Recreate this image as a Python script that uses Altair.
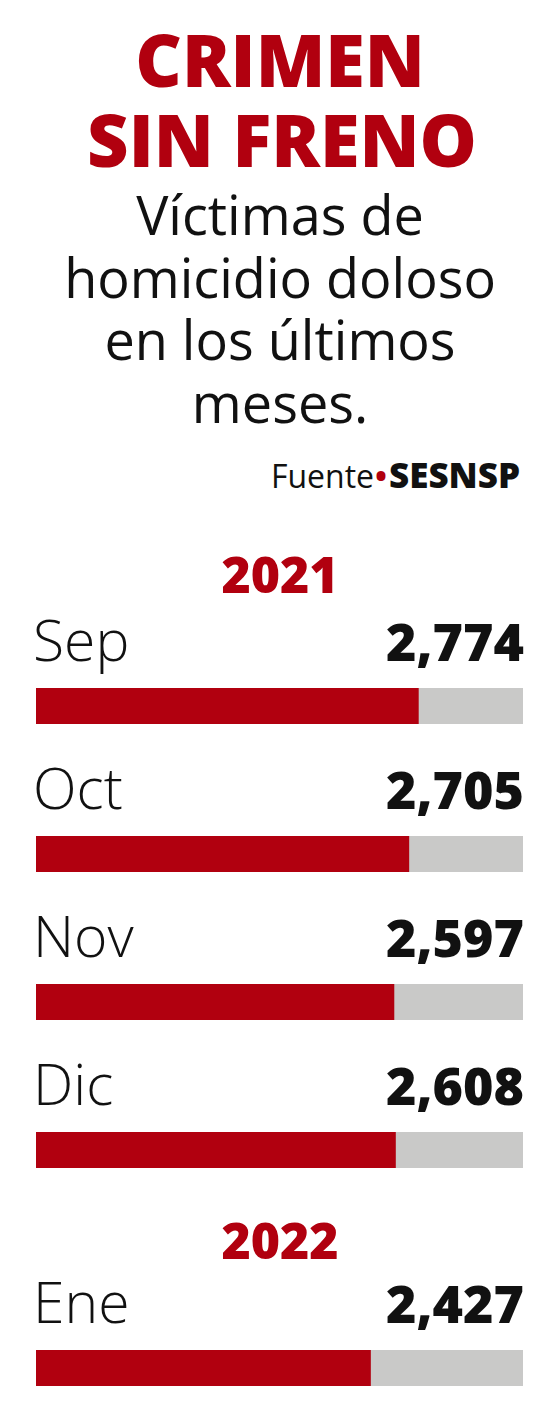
import altair as alt
import pandas as pd

# ---- data ----
months_2021 = ["Sep", "Oct", "Nov", "Dic"]
values_2021 = [2774, 2705, 2597, 2608]
months_2022 = ["Ene"]
values_2022 = [2427]
scale_max = 3530

title_lines = ["CRIMEN", "SIN FRENO"]
subtitle_lines = ["Víctimas de", "homicidio doloso", "en los últimos", "meses."]
source_label = "Fuente"
source_name = "SESNSP"
years = ["2021", "2022"]

RED = "#b1000f"
GRAY = "#c9c9c8"
INK = "#111111"
FONT = "Open Sans"

W = 544
one = pd.DataFrame({"k": [0]})


def txt(text, x, y, size, weight=400, color=INK, align="center"):
    return alt.Chart(one).mark_text(
        text=text, font=FONT, fontSize=size, fontWeight=weight, color=color,
        align=align, baseline="alphabetic",
    ).encode(x=alt.value(x), y=alt.value(y))


# ---- header panel ----
header_layers = [
    txt(title_lines[0], 272, 79, 72, 800, RED),
    txt(title_lines[1], 274, 159, 72, 800, RED),
]
for i, line in enumerate(subtitle_lines):
    header_layers.append(txt(line, 272, 227 + i * 62.5, 54, 400))
header_layers += [
    txt(source_label, 366, 480, 32, 400, align="right"),
    txt("•", 373, 480, 32, 700, RED),
    txt(source_name, 381, 480, 35, 800, align="left"),
    txt(years[0], 272, 585, 50, 800, RED),
]
header = alt.layer(*header_layers).properties(width=W, height=624)


# ---- bar panels ----
def bars(months, values, height):
    df = pd.DataFrame({"month": months, "value": values, "total": [scale_max] * len(months)})
    xs = alt.Scale(domain=[0, scale_max], range=[28, 515], nice=False, zero=True)
    base = alt.Chart(df).encode(
        y=alt.Y("month:N", sort=months, axis=None,
                scale=alt.Scale(paddingInner=0, paddingOuter=0)),
    )
    bg = base.mark_bar(size=36, color=GRAY).encode(x=alt.X("total:Q", scale=xs, axis=None))
    fg = base.mark_bar(size=36, color=RED).encode(x=alt.X("value:Q", scale=xs, axis=None))
    lab = base.mark_text(align="left", baseline="alphabetic", dy=-45, font=FONT,
                         fontSize=57, fontWeight=300, color=INK).encode(
        x=alt.value(25), text="month:N")
    val = base.mark_text(align="right", baseline="alphabetic", dy=-45, font=FONT,
                         fontSize=52, fontWeight=800, color=INK).encode(
        x=alt.value(516), text=alt.Text("value:Q", format=","))
    return alt.layer(bg, fg, lab, val).properties(width=W, height=height)


p2021 = bars(months_2021, values_2021, 592)
label2022 = alt.layer(txt(years[1], 272, 35, 50, 800, RED)).properties(width=W, height=106)
p2022 = bars(months_2022, values_2022, 76)

chart = alt.vconcat(header, p2021, label2022, p2022, spacing=0, bounds="flush").resolve_scale(
    x="independent", y="independent"
).properties(padding=0, background="white").configure_view(stroke=None)

chart.save("out.html", embed_options={"renderer": "svg", "actions": False})
